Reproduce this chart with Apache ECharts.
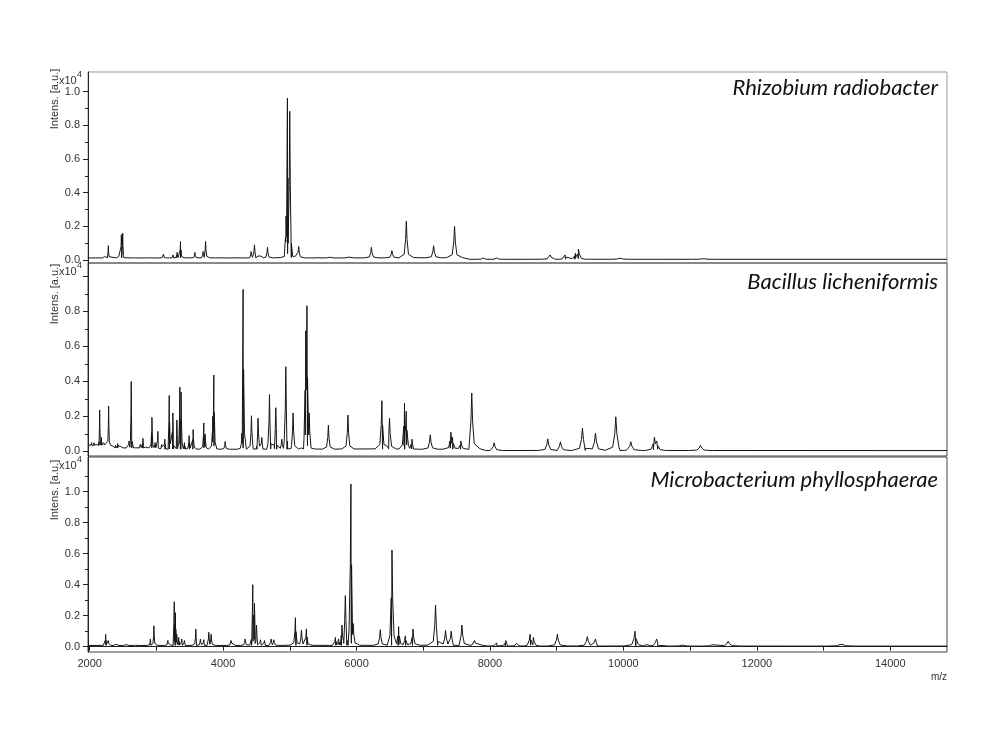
<!DOCTYPE html>
<html>
<head>
<meta charset="utf-8">
<script src="https://cdn.jsdelivr.net/npm/echarts@6.0.0/dist/echarts.min.js"></script>
<style>
  html, body { margin: 0; padding: 0; background: #fff; }
  #main { width: 1000px; height: 750px; }
</style>
</head>
<body>
<div id="main"></div>
<script>
// tick labels
var xTicks = [2000, 4000, 6000, 8000, 10000, 12000, 14000];
var xMinorTicks = [3000, 5000, 7000, 9000, 11000, 13000];
var yTicks = [0, 0.2, 0.4, 0.6, 0.8, 1.0];
var yMinorTicks = [0.1, 0.3, 0.5, 0.7, 0.9, 1.1];

var titles = ['Rhizobium radiobacter', 'Bacillus licheniformis', 'Microbacterium phyllosphaerae'];

// peaks [m/z, intensity x10^4]
var rhizobiumPeaks = [
  [2230, 0.03], [2280, 0.085], [2440, 0.03], [2475, 0.15], [2495, 0.16], [2700, 0.02], [2900, 0.02],
  [3105, 0.035], [3250, 0.03], [3310, 0.045], [3362, 0.11], [3577, 0.045], [3700, 0.05], [3737, 0.11],
  [3950, 0.02], [4200, 0.02], [4420, 0.05], [4470, 0.09], [4530, 0.035], [4575, 0.035], [4665, 0.075],
  [4943, 0.26], [4964, 0.962], [4999, 0.883], [5133, 0.08], [5400, 0.015], [5585, 0.02], [5870, 0.022],
  [6222, 0.075], [6530, 0.055], [6746, 0.23], [7155, 0.085], [7469, 0.20], [7900, 0.012], [8100, 0.012],
  [8900, 0.03], [9125, 0.03], [9280, 0.04], [9325, 0.065], [9950, 0.015], [11200, 0.01]
];
var bacillusPeaks = [
  [2030, 0.05], [2065, 0.05], [2100, 0.045], [2150, 0.237], [2175, 0.08], [2210, 0.05], [2284, 0.26],
  [2350, 0.03], [2420, 0.045], [2460, 0.04], [2590, 0.06], [2623, 0.40], [2700, 0.03], [2760, 0.04],
  [2798, 0.075], [2840, 0.03], [2933, 0.195], [2980, 0.05], [3022, 0.115], [3080, 0.04], [3127, 0.07],
  [3193, 0.32], [3247, 0.22], [3307, 0.18], [3352, 0.367], [3370, 0.34], [3420, 0.05], [3491, 0.09],
  [3551, 0.125], [3711, 0.163], [3730, 0.1], [3845, 0.2], [3861, 0.437], [4031, 0.057], [4280, 0.08],
  [4300, 0.926], [4425, 0.204], [4524, 0.19], [4580, 0.08], [4695, 0.325], [4790, 0.25], [4880, 0.07],
  [4940, 0.484], [5049, 0.22], [5238, 0.69], [5257, 0.833], [5290, 0.22], [5578, 0.15], [5871, 0.208],
  [6380, 0.29], [6494, 0.19], [6719, 0.276], [6745, 0.23], [6830, 0.07], [7105, 0.095], [7414, 0.11],
  [7440, 0.08], [7563, 0.06], [7727, 0.334], [8063, 0.05], [8866, 0.072], [9056, 0.055], [9386, 0.134],
  [9581, 0.105], [9886, 0.198], [10111, 0.055], [10464, 0.082], [10500, 0.06], [11155, 0.035]
];
var microPeaks = [
  [2240, 0.08], [2280, 0.04], [2400, 0.025], [2550, 0.02], [2700, 0.02], [2910, 0.05], [2963, 0.135],
  [3172, 0.04], [3268, 0.29], [3285, 0.22], [3305, 0.08], [3335, 0.06], [3380, 0.05], [3420, 0.04],
  [3591, 0.114], [3660, 0.05], [3710, 0.045], [3786, 0.093], [3820, 0.08], [4120, 0.04], [4330, 0.05],
  [4445, 0.40], [4470, 0.28], [4500, 0.14], [4560, 0.045], [4620, 0.04], [4720, 0.05], [4760, 0.045],
  [5084, 0.187], [5174, 0.107], [5249, 0.115], [5683, 0.06], [5730, 0.05], [5781, 0.14], [5832, 0.33],
  [5916, 1.05], [5950, 0.15], [6356, 0.11], [6531, 0.624], [6631, 0.13], [6731, 0.07], [6845, 0.114],
  [7184, 0.269], [7334, 0.105], [7419, 0.10], [7579, 0.14], [7768, 0.04], [8100, 0.025], [8237, 0.04],
  [8400, 0.02], [8602, 0.08], [8650, 0.06], [9010, 0.08], [9459, 0.065], [9580, 0.05], [10174, 0.10],
  [10350, 0.02], [10497, 0.05], [10886, 0.015], [11340, 0.02], [11570, 0.035], [13268, 0.025]
];

// baseline level, [from m/z, level]
var rhizobiumBase = [[1975, 0.012], [7700, 0.004], [14850, 0.004]];
var bacillusBase = [[1975, 0.035], [2400, 0.02], [3000, 0.012], [8000, 0.005], [14850, 0.005]];
var microBase = [[1975, 0.008], [8000, 0.004], [14850, 0.004]];

function baseAt(base, mz) {
  var lv = base[0][1];
  base.forEach(function (b) { if (mz >= b[0]) lv = b[1]; });
  return lv;
}

// line points: baseline knots + a peak profile around every apex
function spectrum(peaks, base) {
  var pts = base.map(function (b) { return [b[0], b[1]]; });
  peaks.forEach(function (p) {
    var mz = p[0], h = p[1], b = baseAt(base, mz), w = mz * 0.0016;
    [[-10, 0.01], [-3, 0.1], [-1, 0.5], [0, 1], [1, 0.5], [3, 0.1], [10, 0.01]].forEach(function (s) {
      pts.push([mz + s[0] * w, b + (h - b) * s[1]]);
    });
  });
  pts.sort(function (a, b) { return a[0] - b[0]; });
  return pts;
}

var grids = [
  { left: 88, width: 859, top: 72, height: 191, yMin: -0.018, yMax: 1.117, labels: yTicks, border: '#999' },
  { left: 88, width: 859, top: 263, height: 193, yMin: -0.026, yMax: 1.077, labels: [0, 0.2, 0.4, 0.6, 0.8], border: '#444' },
  { left: 88, width: 859, top: 457, height: 195, yMin: -0.034, yMax: 1.224, labels: yTicks, border: '#444' }
];
var spectra = [
  spectrum(rhizobiumPeaks, rhizobiumBase),
  spectrum(bacillusPeaks, bacillusBase),
  spectrum(microPeaks, microBase)
];

var tickFont = { fontFamily: 'Liberation Sans', fontSize: 11, color: '#333' };

var option = {
  animation: false,
  grid: grids.map(function (g) {
    return { left: g.left, width: g.width, top: g.top, height: g.height, show: true,
      borderColor: g.border, borderWidth: 1, backgroundColor: 'transparent' };
  }),
  xAxis: grids.map(function (g, i) {
    var last = i === 2;
    return {
      type: 'value', gridIndex: i, min: 1975, max: 14850, show: last,
      axisLine: { show: true, lineStyle: { color: '#222' } },
      splitLine: { show: false },
      axisTick: { show: true, customValues: xTicks.concat(xMinorTicks), length: 4, lineStyle: { color: '#222' } },
      axisLabel: Object.assign({ customValues: xTicks, margin: 6, formatter: function (v) { return String(v); } }, tickFont)
    };
  }),
  yAxis: [],
  series: spectra.map(function (d, i) {
    return {
      type: 'line', xAxisIndex: i, yAxisIndex: i * 2, data: d, showSymbol: false,
      sampling: 'none', lineStyle: { width: 1, color: '#151515' }, silent: true
    };
  }),
  graphic: []
};

grids.forEach(function (g, i) {
  option.yAxis.push({
    type: 'value', gridIndex: i, min: g.yMin, max: g.yMax, position: 'left',
    axisLine: { show: true, lineStyle: { color: '#222' } },
    splitLine: { show: false },
    axisTick: { show: true, customValues: yTicks, length: 5, lineStyle: { color: '#222' } },
    axisLabel: Object.assign({ customValues: g.labels, margin: 8, formatter: function (v) { return v.toFixed(1); } }, tickFont)
  });
  option.yAxis.push({
    type: 'value', gridIndex: i, min: g.yMin, max: g.yMax, position: 'left', offset: 0,
    axisLine: { show: false }, splitLine: { show: false }, axisLabel: { show: false },
    axisTick: { show: true, customValues: yMinorTicks.filter(function (v) { return v < g.yMax - 0.02; }),
      length: 3, lineStyle: { color: '#222' } }
  });
});

// panel texts
var titleY = [88, 282, 480];
var intensY = [99, 294, 490];
var expY = [81, 272, 466];
grids.forEach(function (g, i) {
  option.graphic.push({
    type: 'text', x: 938, y: titleY[i],
    style: { text: titles[i], font: 'italic 22px Lato', fill: '#111', align: 'right', verticalAlign: 'middle' }
  });
  option.graphic.push({
    type: 'text', x: 55, y: intensY[i], rotation: Math.PI / 2,
    style: { text: 'Intens. [a.u.]', font: '11px "Liberation Sans"', fill: '#333', align: 'center', verticalAlign: 'middle' }
  });
  option.graphic.push({
    type: 'text', x: 59, y: expY[i],
    style: { text: 'x10', font: '11px "Liberation Sans"', fill: '#333', align: 'left', verticalAlign: 'middle' }
  });
  option.graphic.push({
    type: 'text', x: 77, y: expY[i] - 6,
    style: { text: '4', font: '9px "Liberation Sans"', fill: '#333', align: 'left', verticalAlign: 'middle' }
  });
});
option.graphic.push({
  type: 'text', x: 947, y: 677,
  style: { text: 'm/z', font: '10px "Liberation Sans"', fill: '#333', align: 'right', verticalAlign: 'middle' }
});

var chart = echarts.init(document.getElementById('main'));
chart.setOption(option);
</script>
</body>
</html>
